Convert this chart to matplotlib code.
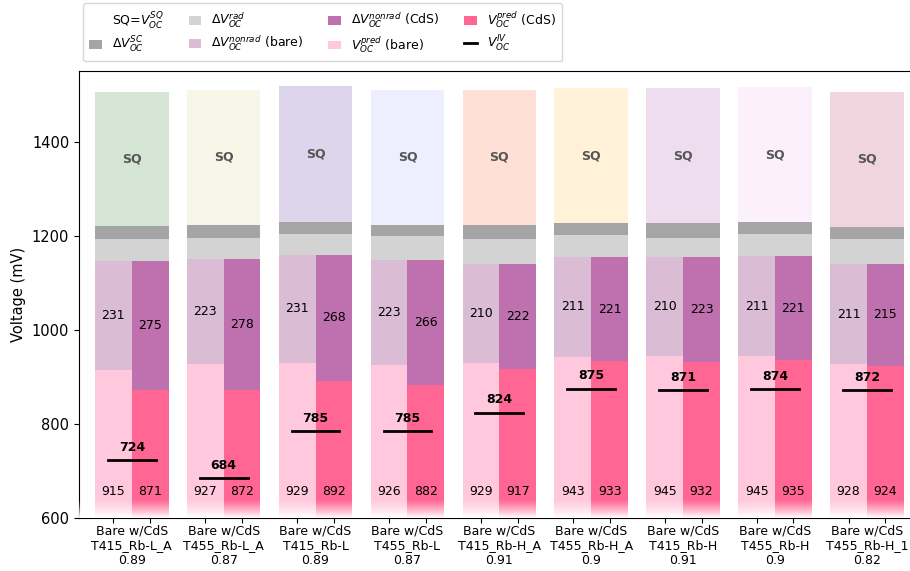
import numpy as np
import matplotlib.pyplot as plt
from matplotlib.patches import Patch
from matplotlib.lines import Line2D

# sample names and ratio shown under each pair of bars
samples = ['T415_Rb-L_A', 'T455_Rb-L_A', 'T415_Rb-L', 'T455_Rb-L', 'T415_Rb-H_A',
           'T455_Rb-H_A', 'T415_Rb-H', 'T455_Rb-H', 'T455_Rb-H_1']
ratios = ['0.89', '0.87', '0.89', '0.87', '0.91', '0.9', '0.91', '0.9', '0.82']

# voltages in mV
eg_top = [1505, 1510, 1518, 1510, 1510, 1513, 1513, 1515, 1505]
voc_sq = [1220, 1223, 1230, 1223, 1223, 1226, 1226, 1230, 1219]
dv_sc = [27, 27, 27, 24, 30, 25, 30, 27, 25]
dv_rad = [47, 46, 43, 50, 54, 47, 41, 47, 55]
pred_bare = [915, 927, 929, 926, 929, 943, 945, 945, 928]
nonrad_bare = [231, 223, 231, 223, 210, 211, 210, 211, 211]
pred_cds = [871, 872, 892, 882, 917, 933, 932, 935, 924]
nonrad_cds = [275, 278, 268, 266, 222, 221, 223, 221, 215]
voc_iv = [724, 684, 785, 785, 824, 875, 871, 874, 872]

sq_colors = ['#d5e5d5', '#f7f6e8', '#ddd5eb', '#edeefe', '#fee0d6',
             '#fff2d8', '#eeddef', '#fcf0fc', '#f0d4de']
c_sc = '#a5a5a5'
c_rad = '#d3d3d3'
c_nr_bare = '#dabcd4'
c_nr_cds = '#bf71af'
c_pred_bare = '#ffc8dc'
c_pred_cds = '#ff6694'

fig = plt.figure(figsize=(9.1, 5.71), dpi=100)
ax = fig.add_axes([79 / 910, 53 / 571, 833 / 910, 447 / 571])

x = np.arange(len(samples))
w = 0.4
ymin = 600

pb = np.array(pred_bare)
nb = np.array(nonrad_bare)
pc = np.array(pred_cds)
nc = np.array(nonrad_cds)
rad_base = pb + nb
sc_base = rad_base + np.array(dv_rad)

ax.bar(x - w / 2, pb - ymin, w, bottom=ymin, color=c_pred_bare, lw=0, zorder=2)
ax.bar(x - w / 2, nb, w, bottom=pb, color=c_nr_bare, lw=0, zorder=2)
ax.bar(x + w / 2, pc - ymin, w, bottom=ymin, color=c_pred_cds, lw=0, zorder=2)
ax.bar(x + w / 2, nc, w, bottom=pc, color=c_nr_cds, lw=0, zorder=2)
ax.bar(x, dv_rad, 2 * w, bottom=rad_base, color=c_rad, lw=0, zorder=2)
ax.bar(x, dv_sc, 2 * w, bottom=sc_base, color=c_sc, lw=0, zorder=2)
ax.bar(x, np.array(eg_top) - np.array(voc_sq), 2 * w, bottom=voc_sq,
       color=sq_colors, lw=0, zorder=2)

for i in range(len(samples)):
    ax.text(x[i], (voc_sq[i] + eg_top[i]) / 2, 'SQ', ha='center', va='center',
            fontsize=9, fontweight='bold', color='#555555', zorder=5)
    ax.text(x[i] - w / 2, pb[i] + nb[i] / 2, str(nb[i]), ha='center', va='center',
            fontsize=9, zorder=5)
    ax.text(x[i] + w / 2, pc[i] + nc[i] / 2, str(nc[i]), ha='center', va='center',
            fontsize=9, zorder=5)
    ax.text(x[i] - w / 2, 656, str(pb[i]), ha='center', va='center', fontsize=9, zorder=5)
    ax.text(x[i] + w / 2, 656, str(pc[i]), ha='center', va='center', fontsize=9, zorder=5)
    ax.plot([x[i] - 0.26, x[i] + 0.26], [voc_iv[i], voc_iv[i]], color='black', lw=2, zorder=5)
    ax.text(x[i], voc_iv[i] + 13, str(voc_iv[i]), ha='center', va='bottom',
            fontsize=9, fontweight='bold', zorder=5)

xl = (-0.574, -0.574 + 833 / 91.9)
ax.set_xlim(xl)
ax.set_ylim(ymin, 1550)

# white fade at the foot of the bars
fade = np.ones((100, 1, 4))
fade[:, 0, 3] = np.linspace(1, 0, 100) ** 1.2
ax.imshow(fade, extent=(xl[0], xl[1], ymin, 640), origin='lower', aspect='auto', zorder=3)

ax.set_yticks([600, 800, 1000, 1200, 1400])
ax.tick_params(axis='y', labelsize=10.5)
ax.set_ylabel('Voltage (mV)', fontsize=10.5)

ax.set_xticks(np.concatenate([x - w / 2, x + w / 2]))
ax.set_xticklabels([''] * (2 * len(x)))
ax.set_xticks(x, minor=True)
ax.set_xticklabels([f'Bare w/CdS\n{s}\n{r}' for s, r in zip(samples, ratios)],
                   minor=True, fontsize=9, linespacing=1.15)
ax.tick_params(axis='x', which='minor', length=0, pad=5)

handles = [
    Patch(facecolor='none', edgecolor='none', label=r'SQ=$V_{OC}^{SQ}$'),
    Patch(facecolor=c_sc, label=r'$\Delta V_{OC}^{SC}$'),
    Patch(facecolor=c_rad, label=r'$\Delta V_{OC}^{rad}$'),
    Patch(facecolor=c_nr_bare, label=r'$\Delta V_{OC}^{nonrad}$ (bare)'),
    Patch(facecolor=c_nr_cds, label=r'$\Delta V_{OC}^{nonrad}$ (CdS)'),
    Patch(facecolor=c_pred_bare, label=r'$V_{OC}^{pred}$ (bare)'),
    Patch(facecolor=c_pred_cds, label=r'$V_{OC}^{pred}$ (CdS)'),
    Line2D([0], [0], color='black', lw=2, label=r'$V_{OC}^{IV}$'),
]
fig.legend(handles=handles, ncol=4, loc='upper left', bbox_to_anchor=(83 / 910, 1 - 3 / 571),
           borderaxespad=0, fontsize=9, frameon=True, handlelength=1.0, handletextpad=0.8,
           columnspacing=2.0, labelspacing=0.3, borderpad=0.5)

fig.savefig('out.png', dpi=100)
